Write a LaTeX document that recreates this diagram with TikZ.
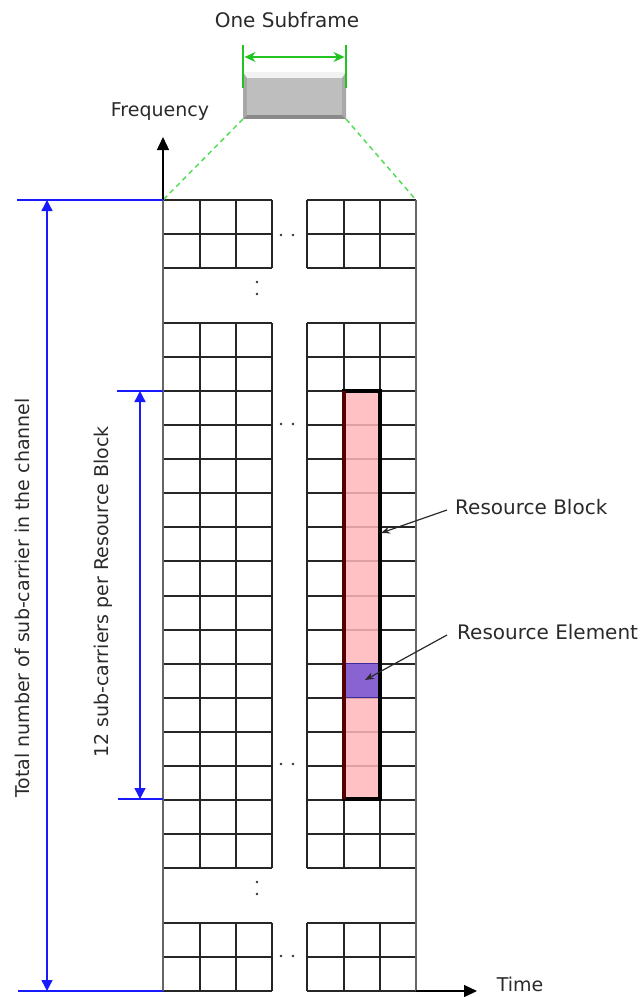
\documentclass[tikz,border=0pt]{standalone}
\usepackage{fontspec}
\setmainfont{DejaVu Sans}
\usetikzlibrary{arrows.meta}
\definecolor{txtgray}{HTML}{2A2A2A}
\definecolor{dimblue}{HTML}{1A1AFF}
\definecolor{dimgreen}{HTML}{22C422}
\definecolor{dashgreen}{HTML}{55DD55}
\definecolor{rbpink}{HTML}{FFB6B9}
\definecolor{rbdark}{HTML}{550000}
\definecolor{repurple}{HTML}{8A63D2}
\definecolor{reborder}{HTML}{3A2A9A}
\definecolor{sfedge}{HTML}{8A8A8A}
\definecolor{sffill}{HTML}{BEBEBE}
\definecolor{sftop}{HTML}{F2F2F2}
\definecolor{sfside}{HTML}{A8A8A8}
\begin{document}
\begin{tikzpicture}[x=1pt,y=-1pt,
  lbl/.style={font=\fontsize{19}{23}\selectfont, text=txtgray, inner sep=0pt},
  biglbl/.style={font=\fontsize{20}{24}\selectfont, text=txtgray, inner sep=0pt},
  gridline/.style={line width=2pt, draw=black!85},
  outerline/.style={line width=2.6pt, draw=black!60},
  dimline/.style={draw=dimblue, line width=1.4pt},
  dimarrow/.style={draw=dimblue, line width=1.4pt, {Triangle[width=11pt,length=11pt]}-{Triangle[width=11pt,length=11pt]}},
  axisarrow/.style={draw=black, line width=1.4pt, -{Triangle[width=12pt,length=13pt]}},
  pointer/.style={draw=txtgray, line width=1.2pt, -{Stealth[width=7pt,length=9pt]}},
  dotstyle/.style={fill=black!80, radius=1.3pt}
]
\useasboundingbox (0,0) rectangle (643,997);

% ---- subframe symbol ----
\fill[sfedge] (243,72) rectangle (346,119);
\fill[sfside] (243,72) -- (247,78) -- (247,115) -- (243,119) -- cycle;
\fill[sfside] (346,72) -- (342,78) -- (342,115) -- (346,119) -- cycle;
\fill[sftop] (243,72) -- (346,72) -- (342,78) -- (247,78) -- cycle;
\fill[sffill] (247,78) rectangle (342,115);
\node[biglbl] (title) at (287,20) {One Subframe};
\coordinate (gL) at (243,45);
\coordinate (gR) at (346,45);
\draw[draw=dimgreen, line width=1.6pt] (gL) -- (243,88);
\draw[draw=dimgreen, line width=1.6pt] (gR) -- (346,88);
\coordinate (gA) at (244.5,57);
\coordinate (gB) at (344.5,57);
\draw[draw=dimgreen, line width=1.6pt, {Stealth[width=10pt,length=11pt]}-{Stealth[width=10pt,length=11pt]}] (gA) -- (gB);

% ---- grid ----
\foreach \y in {200,234,268} {
  \draw[gridline] (163,\y) -- (272,\y);
  \draw[gridline] (307,\y) -- (416,\y);
}
\foreach \k in {0,...,16} {
  \pgfmathsetmacro\yy{323+34.0625*\k}
  \draw[gridline] (163,\yy) -- (272,\yy);
  \draw[gridline] (307,\yy) -- (416,\yy);
}
\foreach \y in {922.5,956.75,991} {
  \draw[gridline] (163,\y) -- (272,\y);
  \draw[gridline] (307,\y) -- (416,\y);
}
\foreach \ya/\yb in {200/268, 323/868, 922.5/991} {
  \foreach \x in {199.5,236,272,307,344,380} {
    \draw[gridline] (\x,\ya) -- (\x,\yb);
  }
}
% resource block
\fill[rbpink, fill opacity=0.85] (344,391) rectangle (380,799);
\fill[repurple] (344,663.5) rectangle (380,697.5);
\draw[reborder, line width=1.4pt] (344,663.5) rectangle (380,697.5);
\draw[black, line width=3.2pt] (344,391) rectangle (380,799);
\draw[rbdark, line width=3.2pt] (344,391) -- (344,799);
% outer verticals
\draw[outerline] (163,200) -- (163,991);
\draw[outerline] (416,200) -- (416,991);

% dots
\foreach \y in {235,424,764,956} {
  \fill[dotstyle] (281,\y) circle;
  \fill[dotstyle] (293,\y) circle;
}
\foreach \y in {282,294,882,894} {
  \fill[dotstyle] (257,\y) circle;
}

% dashed zoom lines
\coordinate (sfBL) at (243,119);
\coordinate (sfBR) at (346,119);
\coordinate (gTL) at (163,200);
\coordinate (gTR) at (416,200);
\draw[dashgreen, line width=1.5pt, dash pattern=on 5pt off 4pt] (sfBL) -- (gTL);
\draw[dashgreen, line width=1.5pt, dash pattern=on 5pt off 4pt] (sfBR) -- (gTR);

% axes
\coordinate (O) at (163,991);
\coordinate (ftip) at (163,137);
\coordinate (tstart) at (416,991);
\coordinate (ttip) at (477,991);
\draw[axisarrow] (gTL) -- (ftip);
\draw[axisarrow] (tstart) -- (ttip);
\node[lbl] (freq) at (160,112) {Frequency};
\node[lbl] (time) at (520,984) {Time};

% blue dimensions
\coordinate (e1a) at (17,200);
\coordinate (e2a) at (18,991);
\coordinate (e3a) at (117,391);
\coordinate (e3b) at (163,391);
\coordinate (e4a) at (118,799);
\coordinate (e4b) at (163,799);
\draw[dimline] (e1a) -- (gTL);
\draw[dimline] (e2a) -- (O);
\draw[dimline] (e3a) -- (e3b);
\draw[dimline] (e4a) -- (e4b);
\coordinate (d1a) at (47,200);
\coordinate (d1b) at (47,991);
\coordinate (d2a) at (140,391);
\coordinate (d2b) at (140,799);
\draw[dimarrow] (d1a) -- (d1b);
\draw[dimarrow] (d2a) -- (d2b);
\node[lbl, rotate=90] (total) at (22,598) {Total number of sub-carrier in the channel};
\node[lbl, rotate=90] (twelve) at (103,592) {12 sub-carriers per Resource Block};

% labels with pointers
\node[biglbl, anchor=west] (rb) at (455,507) {Resource Block};
\node[biglbl, anchor=west] (re) at (457,632) {Resource Element};
\coordinate (rbtip) at (381,533);
\coordinate (retip) at (365,680);
\draw[pointer] ([xshift=-8pt,yshift=-3pt]rb.west) -- (rbtip);
\draw[pointer, -{Stealth[width=7pt,length=9pt,fill=reborder]}] ([xshift=-10pt,yshift=-3pt]re.west) -- (retip);
\end{tikzpicture}
\end{document}
